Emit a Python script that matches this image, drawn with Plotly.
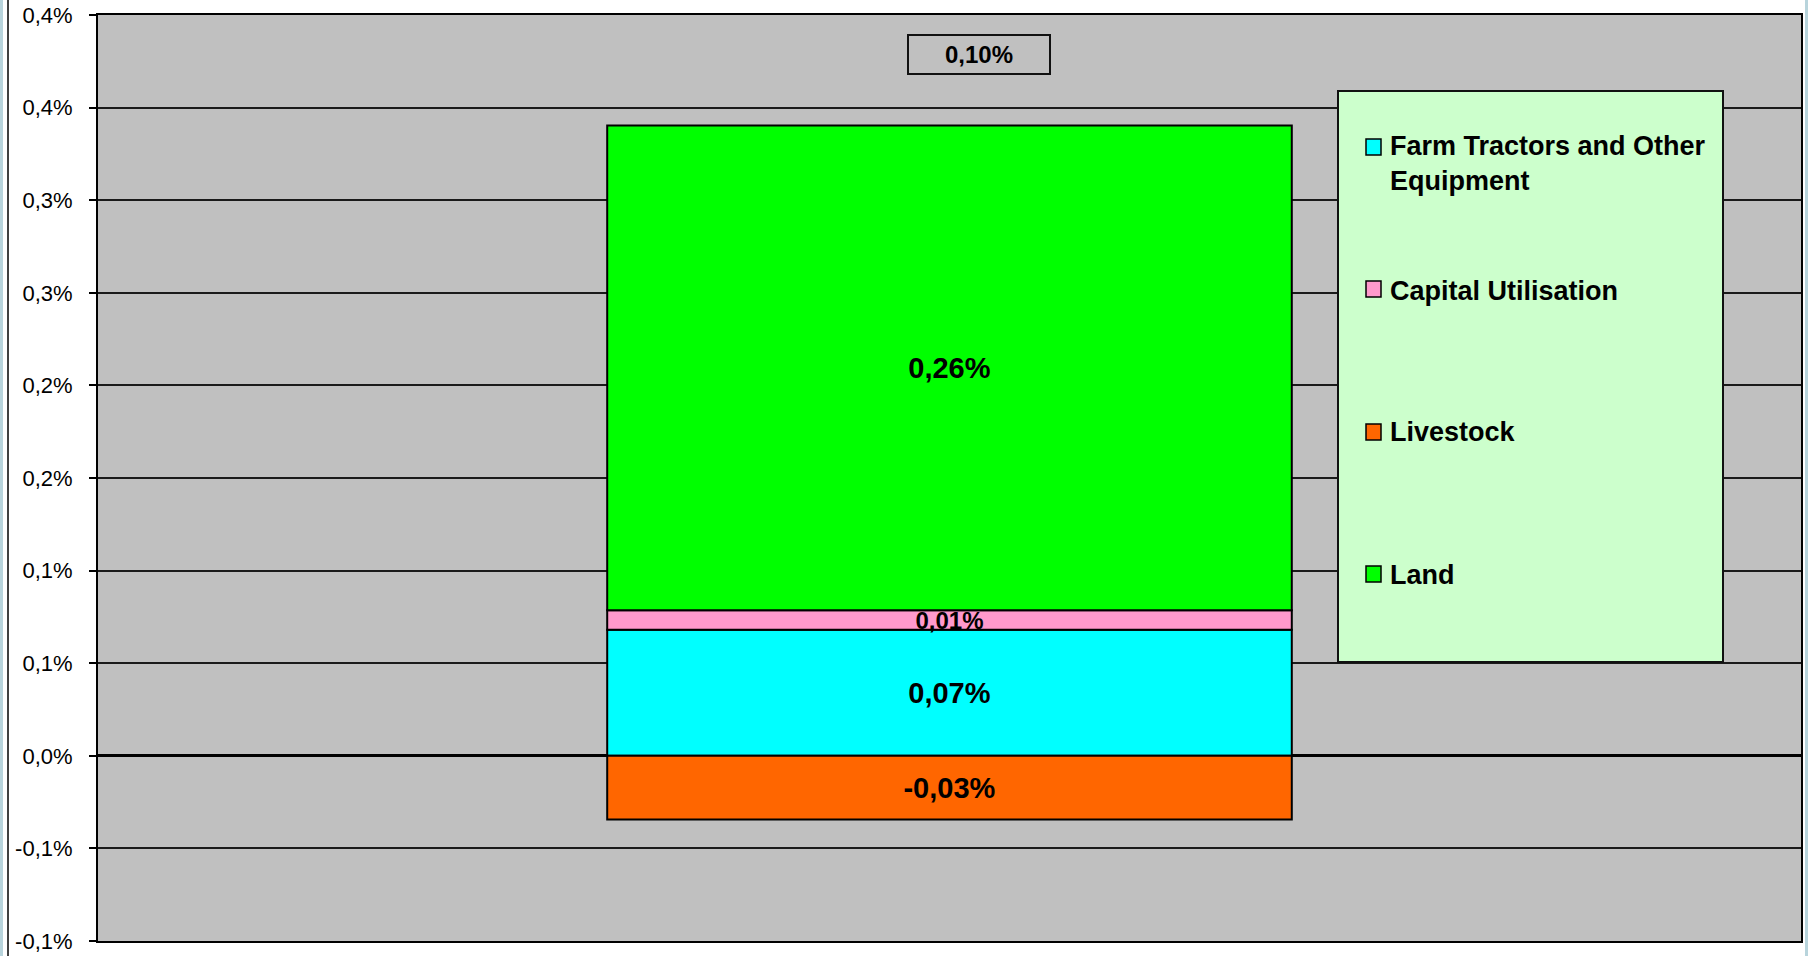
import plotly.graph_objects as go

# Contribution components (percentage points)
category = ["Contribution"]
series_names = ["Farm Tractors and Other Equipment", "Capital Utilisation", "Livestock", "Land"]
legend_labels = ["Farm Tractors and Other<br>Equipment", "Capital Utilisation", "Livestock", "Land"]
series_values = [0.068, 0.0106, -0.0344, 0.2617]
series_colors = ["#00FFFF", "#FF99CC", "#FF6600", "#00FF00"]
label_sizes = [29, 24, 29, 29]
total_label = "0,10%"

# Y axis ticks
tick_vals = [-0.10, -0.05, 0.0, 0.05, 0.10, 0.15, 0.20, 0.25, 0.30, 0.35, 0.40]
tick_text = ["-0,1%", "-0,1%", "0,0%", "0,1%", "0,1%", "0,2%", "0,2%", "0,3%", "0,3%", "0,4%", "0,4%"]

W, H = 1808, 956
ML, MR, MT, MB = 98, 7, 15, 15
PW, PH = W - ML - MR, H - MT - MB


def px_x(p):
    return (p - ML) / PW


def px_y(p):
    return 1 - (p - MT) / PH


FONT = "Liberation Sans, Arial, sans-serif"

fig = go.Figure()
for name, val, col, size in zip(series_names, series_values, series_colors, label_sizes):
    fig.add_trace(go.Bar(
        x=category, y=[val], name=name,
        marker=dict(color=col, line=dict(color="black", width=2)),
        texttemplate="%{y:.2f}%", textposition="inside", insidetextanchor="middle",
        textangle=0, constraintext="none",
        textfont=dict(family=FONT, size=size, color="black", weight="bold"),
        showlegend=False, hoverinfo="name+y",
    ))

shapes = []
annotations = []

# Legend panel
box_l, box_r, box_t, box_b = 1338, 1723, 91, 662
shapes.append(dict(type="rect", xref="paper", yref="paper",
                   x0=px_x(box_l), x1=px_x(box_r), y0=px_y(box_b), y1=px_y(box_t),
                   fillcolor="#CCFFCC", line=dict(color="#111111", width=2), layer="above"))
item_centers = [147, 289, 432, 574]
text_centers = [163, 291, 432, 575]
for lab, col, yc, ty in zip(legend_labels, series_colors, item_centers, text_centers):
    shapes.append(dict(type="rect", xref="paper", yref="paper",
                       x0=px_x(1366), x1=px_x(1381), y0=px_y(yc + 8), y1=px_y(yc - 8),
                       fillcolor=col, line=dict(color="black", width=1.5), layer="above"))
    annotations.append(dict(xref="paper", yref="paper", x=px_x(1388), y=px_y(ty),
                            xanchor="left", yanchor="middle", align="left", showarrow=False,
                            text=lab, font=dict(family=FONT, size=27, color="black", weight="bold")))

# Total label box
annotations.append(dict(xref="paper", yref="paper", x=px_x(979), y=px_y(54.5),
                        xanchor="center", yanchor="middle", showarrow=False,
                        text=total_label, width=140, height=37, borderpad=0,
                        bordercolor="#111111", borderwidth=2,
                        font=dict(family=FONT, size=24, color="black", weight="bold")))

# Outer frame details of the chart area
shapes.append(dict(type="line", xref="paper", yref="paper",
                   x0=px_x(8), x1=px_x(8), y0=px_y(H), y1=px_y(0),
                   line=dict(color="black", width=1.5)))
shapes.append(dict(type="rect", xref="paper", yref="paper",
                   x0=px_x(0), x1=px_x(3), y0=px_y(H), y1=px_y(0),
                   fillcolor="#B8D4DC", line=dict(width=0)))
shapes.append(dict(type="rect", xref="paper", yref="paper",
                   x0=px_x(1805), x1=px_x(1808), y0=px_y(H), y1=px_y(0),
                   fillcolor="#B8D4DC", line=dict(width=0)))

fig.update_layout(
    width=W, height=H, autosize=False,
    margin=dict(l=ML, r=MR, t=MT, b=MB),
    paper_bgcolor="white", plot_bgcolor="#C0C0C0",
    barmode="relative", bargap=0.598,
    separators=",.",
    shapes=shapes, annotations=annotations,
    font=dict(family=FONT, color="black"),
)
fig.update_xaxes(showticklabels=False, showgrid=False, ticks="", automargin=False,
                 showline=True, mirror=True, linecolor="black", linewidth=2)
fig.update_yaxes(range=[-0.10, 0.40], tickvals=tick_vals, ticktext=tick_text,
                 automargin=False,
                 ticks="outside", ticklen=7, tickcolor="black", tickwidth=1.5,
                 ticklabelstandoff=12,
                 tickfont=dict(family=FONT, size=22, color="black"),
                 showgrid=True, gridcolor="#1a1a1a", gridwidth=1.5,
                 zeroline=True, zerolinecolor="black", zerolinewidth=3,
                 showline=True, mirror=True, linecolor="black", linewidth=2)

fig.write_html("out.html")
